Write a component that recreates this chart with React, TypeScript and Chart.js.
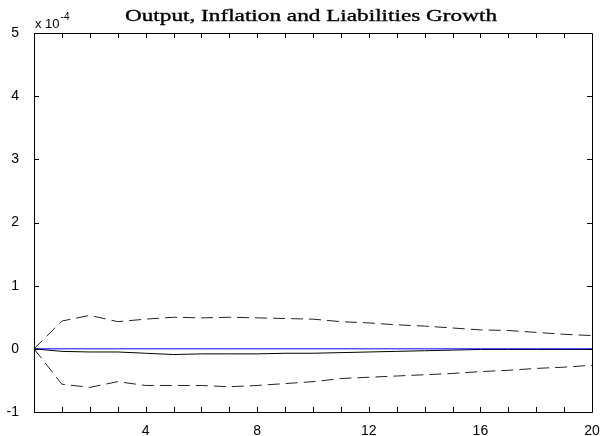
import React, { useEffect, useRef } from "react";
import { Chart, registerables } from "chart.js";

Chart.register(...registerables);

const steps = [0, 1, 2, 3, 4, 5, 6, 7, 8, 9, 10, 11, 12, 13, 14, 15, 16, 17, 18, 19, 20];
const upperBand = [0, 0.44, 0.53, 0.43, 0.47, 0.5, 0.49, 0.5, 0.49, 0.48, 0.47, 0.43, 0.41, 0.38, 0.36, 0.33, 0.3, 0.29, 0.26, 0.23, 0.21];
const lowerBand = [0, -0.56, -0.61, -0.52, -0.58, -0.58, -0.58, -0.6, -0.58, -0.55, -0.52, -0.47, -0.45, -0.43, -0.41, -0.39, -0.36, -0.34, -0.31, -0.29, -0.26];
const response = [0, -0.04, -0.05, -0.05, -0.07, -0.09, -0.08, -0.08, -0.08, -0.07, -0.07, -0.06, -0.05, -0.04, -0.03, -0.02, -0.01, -0.01, -0.01, -0.01, -0.01];
const zeroLine = [0, 0, 0, 0, 0, 0, 0, 0, 0, 0, 0, 0, 0, 0, 0, 0, 0, 0, 0, 0, 0];
const xTickLabels = [4, 8, 12, 16, 20];
const yTickValues = [-1, 0, 1, 2, 3, 4, 5];
const titleText = "Output, Inflation and Liabilities Growth";

const pts = (ys: number[]) => steps.map((x, i) => ({ x, y: ys[i] }));

const framePlugin = {
  id: "frame",
  afterDraw(chart: any) {
    const { ctx, chartArea: a, scales } = chart;
    const xs = scales.x;
    const ys = scales.y;
    ctx.save();
    ctx.strokeStyle = "#000";
    ctx.lineWidth = 1;
    ctx.beginPath();
    ctx.rect(Math.round(a.left) + 0.5, Math.round(a.top) + 0.5, Math.round(a.right - a.left), Math.round(a.bottom - a.top));
    ctx.stroke();
    const tl = 5;
    ctx.beginPath();
    for (const v of steps) {
      if (v === 0 || v === 20) continue;
      const px = Math.round(xs.getPixelForValue(v)) + 0.5;
      ctx.moveTo(px, a.bottom);
      ctx.lineTo(px, a.bottom - tl);
      ctx.moveTo(px, a.top);
      ctx.lineTo(px, a.top + tl);
    }
    for (const v of yTickValues) {
      const py = Math.round(ys.getPixelForValue(v)) + 0.5;
      ctx.moveTo(a.left, py);
      ctx.lineTo(a.left + tl, py);
      ctx.moveTo(a.right, py);
      ctx.lineTo(a.right - tl, py);
    }
    ctx.stroke();

    // title
    ctx.fillStyle = "#000";
    ctx.strokeStyle = "#000";
    ctx.lineWidth = 0.35;
    ctx.font = "17px 'Liberation Serif'";
    ctx.textBaseline = "alphabetic";
    const w = ctx.measureText(titleText).width;
    const targetW = 372;
    const sx = targetW / w;
    const cx = 311;
    ctx.save();
    ctx.translate(cx - targetW / 2, 21);
    ctx.scale(sx, 1);
    ctx.textAlign = "left";
    ctx.fillText(titleText, 0, 0);
    ctx.strokeText(titleText, 0, 0);
    ctx.restore();

    // exponent label
    ctx.font = "13px 'Liberation Sans'";
    ctx.textAlign = "left";
    ctx.fillText("x 10", a.left + 1, 28);
    const w2 = ctx.measureText("x 10").width;
    ctx.font = "10px 'Liberation Sans'";
    ctx.fillText("-4", a.left + 1 + w2 + 1, 20);
    ctx.restore();
  },
};

export default function App() {
  const ref = useRef<HTMLCanvasElement | null>(null);
  useEffect(() => {
    if (!ref.current) return;
    const dashed = { borderColor: "#222", borderWidth: 1, borderDash: [12, 6], pointRadius: 0, fill: false, tension: 0 };
    const chart = new Chart(ref.current, {
      type: "line",
      data: {
        datasets: [
          { label: "upper", data: pts(upperBand), ...dashed },
          { label: "lower", data: pts(lowerBand), ...dashed },
          { label: "zero", data: pts(zeroLine), borderColor: "#0000ff", borderWidth: 1, pointRadius: 0, fill: false },
          { label: "response", data: pts(response), borderColor: "#000", borderWidth: 1, pointRadius: 0, fill: false },
        ],
      },
      options: {
        animation: false,
        responsive: false,
        maintainAspectRatio: false,
        layout: { padding: { top: 33, right: 17, left: 0, bottom: 0 } },
        plugins: { legend: { display: false }, title: { display: false }, tooltip: { enabled: false } },
        scales: {
          x: {
            type: "linear",
            min: 0,
            max: 20,
            grid: { display: false },
            border: { display: false },
            afterBuildTicks: (s: any) => {
              s.ticks = xTickLabels.map((v) => ({ value: v }));
            },
            afterFit: (s: any) => {
              s.height = 24;
            },
            ticks: {
              color: "#000",
              font: { family: "'Liberation Sans'", size: 14 },
              padding: 3,
              maxRotation: 0,
              autoSkip: false,
            },
          },
          y: {
            type: "linear",
            min: -1,
            max: 5,
            grid: { display: false },
            border: { display: false },
            afterBuildTicks: (s: any) => {
              s.ticks = yTickValues.map((v) => ({ value: v }));
            },
            afterFit: (s: any) => {
              s.width = 34;
            },
            ticks: {
              color: "#000",
              font: { family: "'Liberation Sans'", size: 14 },
              padding: 7,
              autoSkip: false,
            },
          },
        },
      },
      plugins: [framePlugin],
    } as any);
    return () => chart.destroy();
  }, []);
  return (
    <div style={{ position: "fixed", left: 0, top: 0, width: 609, height: 436, background: "#fff" }}>
      <canvas ref={ref} width={609} height={436} style={{ width: 609, height: 436, display: "block" }} />
    </div>
  );
}
